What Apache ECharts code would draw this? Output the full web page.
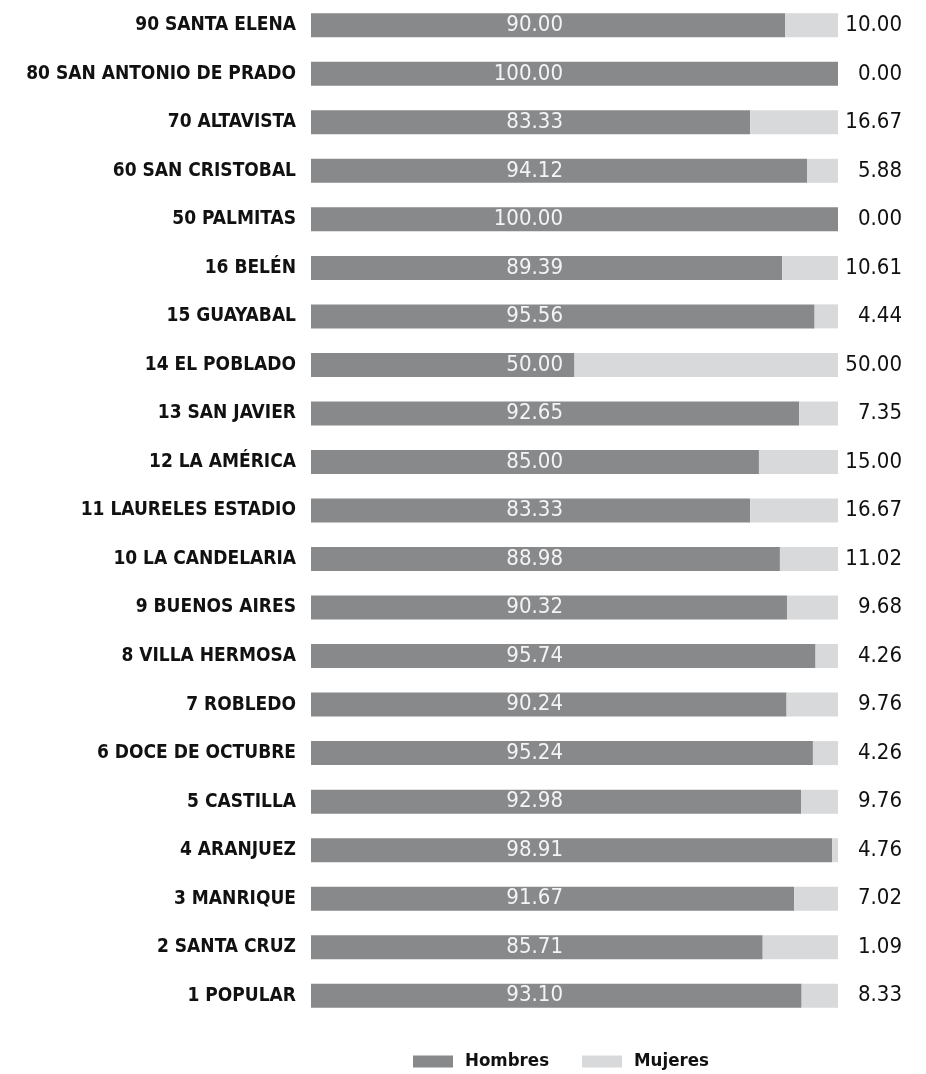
<!DOCTYPE html>
<html><head><meta charset="utf-8">
<script src="https://cdn.jsdelivr.net/npm/echarts@6/dist/echarts.min.js"></script>
<style>html,body{margin:0;padding:0;background:#fff}#c{width:926px;height:1074px}</style>
</head><body><div id="c"></div>
<script>
const categories = ["90 SANTA ELENA","80 SAN ANTONIO DE PRADO","70 ALTAVISTA","60 SAN CRISTOBAL","50 PALMITAS","16 BELÉN","15 GUAYABAL","14 EL POBLADO","13 SAN JAVIER","12 LA AMÉRICA","11 LAURELES ESTADIO","10 LA CANDELARIA","9 BUENOS AIRES","8 VILLA HERMOSA","7 ROBLEDO","6 DOCE DE OCTUBRE","5 CASTILLA","4 ARANJUEZ","3 MANRIQUE","2 SANTA CRUZ","1 POPULAR"];
const hombres = [90.00,100.00,83.33,94.12,100.00,89.39,95.56,50.00,92.65,85.00,83.33,88.98,90.32,95.74,90.24,95.24,92.98,98.91,91.67,85.71,93.10];
const mujeres = [10.00,0.00,16.67,5.88,0.00,10.61,4.44,50.00,7.35,15.00,16.67,11.02,9.68,4.26,9.76,4.76,7.02,1.09,8.33,14.29,6.90];
const rightLabels = ["10.00","0.00","16.67","5.88","0.00","10.61","4.44","50.00","7.35","15.00","16.67","11.02","9.68","4.26","9.76","4.26","9.76","4.76","7.02","1.09","8.33"];

const FONT = "'Liberation Sans Narrow','DejaVu Sans Condensed','Roboto Condensed',sans-serif";
const chart = echarts.init(document.getElementById('c'));
chart.setOption({
  animation:false,
  textStyle:{fontFamily:FONT},
  grid:{left:311,right:88,top:1,bottom:54},
  xAxis:{type:'value',min:0,max:100,show:false},
  yAxis:[
    {type:'category',data:categories,inverse:true,position:'left',
     axisLine:{show:false},axisTick:{show:false},
     axisLabel:{margin:15,color:'#111',fontSize:19,fontWeight:'bold',fontFamily:FONT}},
    {type:'category',data:rightLabels,inverse:true,position:'right',
     axisLine:{show:false},axisTick:{show:false},
     axisLabel:{margin:64,align:'right',color:'#111',fontSize:22,fontFamily:FONT}}
  ],
  legend:{left:408,top:1047,itemWidth:40,itemHeight:12,itemGap:33,icon:'rect',
    textStyle:{color:'#111',fontSize:18.5,fontWeight:'bold',fontFamily:FONT,padding:[0,0,0,7]},
    data:['Hombres','Mujeres']},
  series:[
    {name:'Hombres',type:'bar',stack:'t',data:hombres,barWidth:24,
     itemStyle:{color:'#88898b'},
     label:{show:true,position:[252,'50%'],align:'right',verticalAlign:'middle',
       color:'#f4f4f4',fontSize:22,fontFamily:FONT,
       formatter:p=>p.value.toFixed(2)}},
    {name:'Mujeres',type:'bar',stack:'t',data:mujeres,barWidth:24,
     itemStyle:{color:'#d8d9db'}}
  ]
});
</script></body></html>
